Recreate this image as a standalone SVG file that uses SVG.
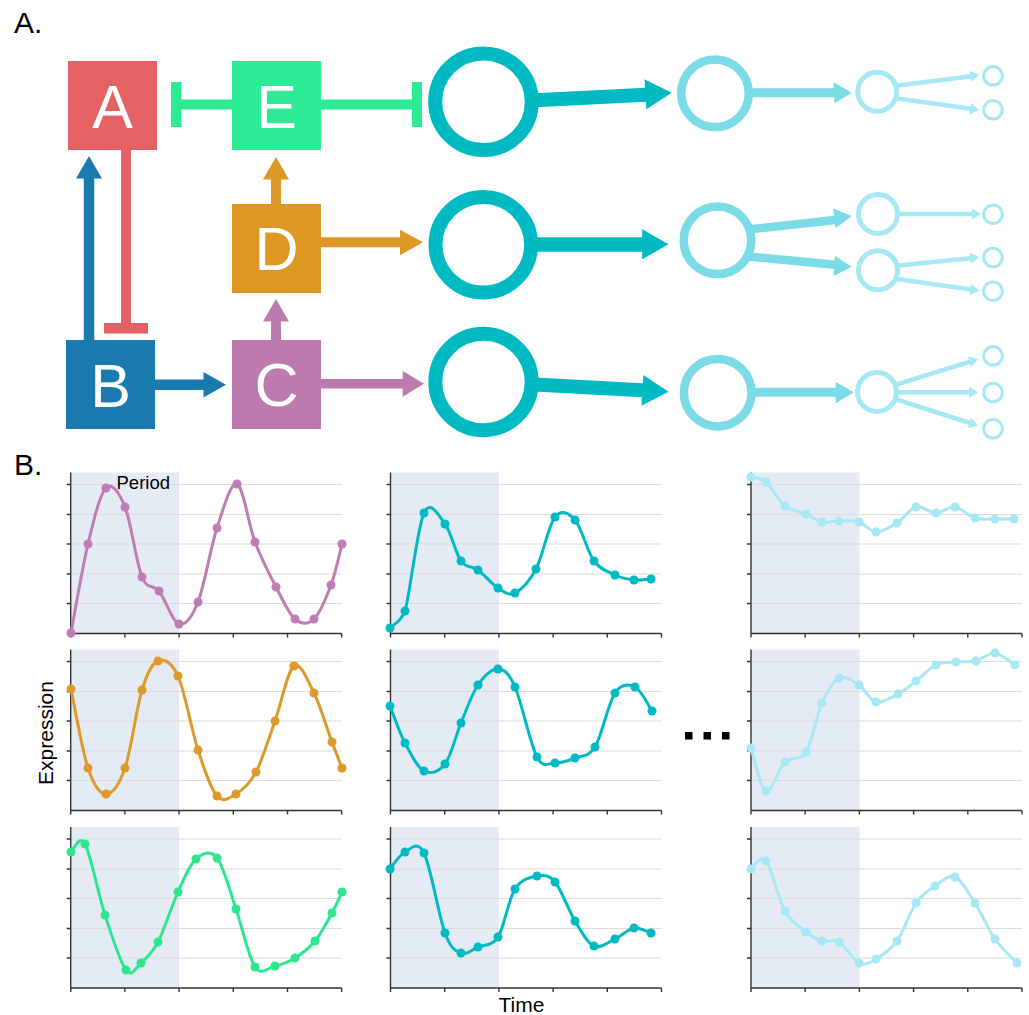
<svg xmlns="http://www.w3.org/2000/svg" xmlns:xlink="http://www.w3.org/1999/xlink" width="1029" height="1015" viewBox="0 0 1029 1015">
<style>
.lbl{font-family:"Liberation Sans",Arial,sans-serif;fill:#000}
.nt{font-family:"Liberation Sans",Arial,sans-serif;fill:#fff;font-size:61px;text-anchor:middle}
.ax{stroke:#333;stroke-width:1.4;fill:none}
.grid{stroke:#DCDCDC;stroke-width:1.2;fill:none}
.shade{fill:#E5EBF5}
.curve{fill:none;stroke-width:3;stroke-linecap:round;stroke-linejoin:round}
.big{fill:#fff;stroke:#00BAC3;stroke-width:14}
.mid{fill:#fff;stroke:#7BDBE6;stroke-width:8.5}
.sm{fill:#fff;stroke:#A6E8F4;stroke-width:5}
.tiny{fill:#fff;stroke:#A6E8F4;stroke-width:3}
</style>
<defs>
<g id="frame">
<rect class="shade" x="0" y="0" width="108.4" height="161"/>
<path class="grid" d="M0,12H271M0,42H271M0,71.5H271M0,101.5H271M0,131H271"/>
<path class="ax" d="M0,0V161H271M-4,12H0M-4,42H0M-4,71.5H0M-4,101.5H0M-4,131H0M0,161V165M54.2,161V165M108.4,161V165M162.6,161V165M216.8,161V165M271,161V165"/>
</g>
</defs>
<rect width="1029" height="1015" fill="#fff"/>

<text class="lbl" x="14" y="33" font-size="30">A.</text>
<text class="lbl" x="14" y="475" font-size="30">B.</text>

<g id="connectors">
<!-- E inhibits A -->
<line x1="232" y1="104.5" x2="178" y2="104.5" stroke="#2DEA94" stroke-width="10"/>
<rect x="171" y="82" width="10.5" height="45" fill="#2DEA94"/>
<!-- E inhibits big circle 1 -->
<line x1="321" y1="104.5" x2="415" y2="104.5" stroke="#2DEA94" stroke-width="10"/>
<rect x="412" y="82" width="10" height="45" fill="#2DEA94"/>
<!-- B -> A -->
<line x1="89" y1="340" x2="89" y2="177" stroke="#1A79AE" stroke-width="10.5"/>
<polygon points="76,178.5 89,156 102,178.5" fill="#1A79AE"/>
<!-- A inhibits B -->
<line x1="126" y1="150" x2="126" y2="325" stroke="#E56264" stroke-width="10"/>
<rect x="104" y="323" width="44" height="10.5" fill="#E56264"/>
<!-- D -> E -->
<line x1="276" y1="204" x2="276" y2="178" stroke="#DC9725" stroke-width="10"/>
<polygon points="263,179.5 276,157 289,179.5" fill="#DC9725"/>
<!-- C -> D -->
<line x1="276" y1="340" x2="276" y2="320" stroke="#BD7AAE" stroke-width="10"/>
<polygon points="263,321.5 276,299 289,321.5" fill="#BD7AAE"/>
<!-- B -> C -->
<line x1="155" y1="384.7" x2="205" y2="384.7" stroke="#1A79AE" stroke-width="10.5"/>
<polygon points="203.5,372 226,384.7 203.5,397.5" fill="#1A79AE"/>
<!-- D -> big2 -->
<line x1="321" y1="242.3" x2="401" y2="242.3" stroke="#DC9725" stroke-width="10"/>
<polygon points="400,229.7 423,242.3 400,255.3" fill="#DC9725"/>
<!-- C -> big3 -->
<line x1="321" y1="383.8" x2="404" y2="383.8" stroke="#BD7AAE" stroke-width="9.5"/>
<polygon points="402.7,371 424,383.8 402.7,396.7" fill="#BD7AAE"/>

<!-- big -> mid -->
<g fill="#00BAC3" stroke="#00BAC3">
<line x1="530" y1="100.5" x2="646" y2="94.7" stroke-width="14"/>
<polygon points="644.5,79.3 671.7,92.7 646.4,109.3" stroke="none"/>
<line x1="530" y1="244.5" x2="643" y2="244.5" stroke-width="14.5"/>
<polygon points="642.2,229.3 668.6,244.3 642.2,259.3" stroke="none"/>
<line x1="530" y1="384.3" x2="643" y2="390.3" stroke-width="14"/>
<polygon points="643.3,375 668.6,391.7 641.4,405.7" stroke="none"/>
</g>
<!-- mid -> small -->
<g fill="#7BDBE6" stroke="#7BDBE6">
<line x1="748" y1="92.8" x2="835" y2="92.8" stroke-width="9"/>
<polygon points="833.6,82.3 851.9,92.7 834.4,103.3" stroke="none"/>
<line x1="748" y1="229.5" x2="835" y2="220" stroke-width="8.5"/>
<polygon points="832.9,208.3 851.9,216 835.6,228.3" stroke="none"/>
<line x1="746" y1="256.2" x2="835" y2="264.7" stroke-width="8.5"/>
<polygon points="834.8,255.7 851.9,266.7 833.6,276" stroke="none"/>
<line x1="750" y1="392.3" x2="836.5" y2="392.3" stroke-width="9"/>
<polygon points="835.6,381.7 853.8,392.3 835.6,403.3" stroke="none"/>
</g>
<!-- small -> tiny -->
<g fill="#A6E8F4" stroke="#A6E8F4" stroke-width="4.5">
<line x1="896" y1="85.8" x2="971" y2="76.2"/>
<polygon points="971.1,81.6 979.3,75 969.7,70.7" stroke="none"/>
<line x1="896" y1="98.2" x2="971" y2="108.7"/>
<polygon points="969.6,114.2 979.3,110 971.2,103.3" stroke="none"/>
<line x1="897" y1="214" x2="973" y2="214"/>
<polygon points="972,208.5 981,214 972,219.5" stroke="none"/>
<line x1="896" y1="265.8" x2="971" y2="258.2"/>
<polygon points="971,263.7 979.3,257.3 969.8,252.7" stroke="none"/>
<line x1="895" y1="278.7" x2="971" y2="289.4"/>
<polygon points="969.6,294.9 979.3,290.7 971.2,284" stroke="none"/>
<line x1="895" y1="385" x2="970" y2="361.6"/>
<polygon points="971.2,366.95 978.1,359 967.9,356.45" stroke="none"/>
<line x1="896" y1="392.3" x2="970" y2="392.3"/>
<polygon points="969.1,386.8 978.1,392.3 969.1,397.8" stroke="none"/>
<line x1="895" y1="399" x2="970" y2="423"/>
<polygon points="967.8,428.1 978.1,425.7 971.2,417.7" stroke="none"/>
</g>
</g>

<g id="node-A"><rect x="68" y="61" width="89" height="89" fill="#E56264"/><text class="nt" x="112.5" y="128">A</text></g>
<g id="node-E"><rect x="232" y="61" width="89" height="89" fill="#2DEA94"/><text class="nt" x="276.5" y="128">E</text></g>
<g id="node-D"><rect x="232" y="204" width="89" height="89" fill="#DC9725"/><text class="nt" x="276.5" y="270">D</text></g>
<g id="node-B"><rect x="66" y="340" width="89" height="89" fill="#1A79AE"/><text class="nt" x="110.5" y="407">B</text></g>
<g id="node-C"><rect x="232" y="340" width="89" height="89" fill="#BD7AAE"/><text class="nt" x="276.5" y="406">C</text></g>

<g id="node-big1"><circle class="big" cx="483.5" cy="101.7" r="48.3"/></g>
<g id="node-big2"><circle class="big" cx="483.3" cy="244.8" r="47.8"/></g>
<g id="node-big3"><circle class="big" cx="483.5" cy="382" r="48.2"/></g>
<g id="node-mid1"><circle class="mid" cx="715" cy="93.3" r="33.8"/></g>
<g id="node-mid2"><circle class="mid" cx="717.5" cy="240.3" r="33.8"/></g>
<g id="node-mid3"><circle class="mid" cx="717.7" cy="392.7" r="33.8"/></g>
<g id="node-sm1"><circle class="sm" cx="877.2" cy="91.7" r="19.5"/></g>
<g id="node-sm2a"><circle class="sm" cx="878" cy="214" r="19.5"/></g>
<g id="node-sm2b"><circle class="sm" cx="878" cy="270.3" r="19.5"/></g>
<g id="node-sm3"><circle class="sm" cx="877" cy="392" r="19.5"/></g>
<g id="node-t1a"><circle class="tiny" cx="993" cy="75.8" r="9.3"/></g>
<g id="node-t1b"><circle class="tiny" cx="993" cy="109.8" r="9.3"/></g>
<g id="node-t2a"><circle class="tiny" cx="993" cy="214.2" r="9.3"/></g>
<g id="node-t2b"><circle class="tiny" cx="993" cy="257.5" r="9.3"/></g>
<g id="node-t2c"><circle class="tiny" cx="993" cy="291.2" r="9.3"/></g>
<g id="node-t3a"><circle class="tiny" cx="993" cy="355.8" r="9.3"/></g>
<g id="node-t3b"><circle class="tiny" cx="993" cy="392.5" r="9.3"/></g>
<g id="node-t3c"><circle class="tiny" cx="993" cy="428.8" r="9.3"/></g>

<!-- Panel B frames -->
<use xlink:href="#frame" href="#frame" transform="translate(70.7,472.5)"/>
<use xlink:href="#frame" href="#frame" transform="translate(70.7,649.5)"/>
<use xlink:href="#frame" href="#frame" transform="translate(70.7,827)"/>
<use xlink:href="#frame" href="#frame" transform="translate(390.5,472.5)"/>
<use xlink:href="#frame" href="#frame" transform="translate(390.5,649.5)"/>
<use xlink:href="#frame" href="#frame" transform="translate(390.5,827)"/>
<use xlink:href="#frame" href="#frame" transform="translate(751,472.5)"/>
<use xlink:href="#frame" href="#frame" transform="translate(751,649.5)"/>
<use xlink:href="#frame" href="#frame" transform="translate(751,827)"/>

<text class="lbl" x="116.5" y="489" font-size="18.5">Period</text>
<text class="lbl" font-size="21" text-anchor="middle" transform="translate(53,733) rotate(-90)">Expression</text>
<text class="lbl" x="521.5" y="1012" font-size="21" text-anchor="middle">Time</text>
<g fill="#000">
<rect x="685" y="732" width="7.5" height="7.5"/>
<rect x="703.5" y="732" width="7.5" height="7.5"/>
<rect x="722" y="732" width="7.5" height="7.5"/>
</g>

<!-- curves -->
<g id="plot-1-1">
<path class="curve" stroke="#C07CB4" d="M71,633 C73.8,618.2 82.2,568.2 88,544 S99.8,494.2 106,488 S119,492.2 125,507 S136.3,563 142,577 S152.8,583.2 159,591 S172.5,622.2 179,624 S191.7,618 198,602 S210.5,547.7 217,528 S230.7,481.7 237,484 S248.5,524.8 255,542 S269.3,574.2 276,587 S288.7,613.7 295,619 S308,624.7 314,619 S326.3,597.5 331,585 S340.2,550.8 342,544"/>
<g fill="#C07CB4"><circle cx="71" cy="633" r="4.5"/><circle cx="88" cy="544" r="4.5"/><circle cx="106" cy="488" r="4.5"/><circle cx="125" cy="507" r="4.5"/><circle cx="142" cy="577" r="4.5"/><circle cx="159" cy="591" r="4.5"/><circle cx="179" cy="624" r="4.5"/><circle cx="198" cy="602" r="4.5"/><circle cx="217" cy="528" r="4.5"/><circle cx="237" cy="484" r="4.5"/><circle cx="255" cy="542" r="4.5"/><circle cx="276" cy="587" r="4.5"/><circle cx="295" cy="619" r="4.5"/><circle cx="314" cy="619" r="4.5"/><circle cx="331" cy="585" r="4.5"/><circle cx="342" cy="544" r="4.5"/></g>
</g>
<g id="plot-2-1">
<path class="curve" stroke="#DD9A2A" d="M71,689 C73.8,702.2 82.2,750.5 88,768 S99.8,794 106,794 S119,785.3 125,768 S136.5,707.8 142,690 S152,663.3 158,661 S171.3,661.2 178,676 S191.5,730 198,750 S210.7,788.7 217,796 S229.5,798 236,794 S249.5,784.2 256,772 S268.7,738.7 275,721 S287.5,670.7 294,666 S307.7,680.3 314,693 S327.3,729.5 332,742 S340.3,763.7 342,768"/>
<g fill="#DD9A2A"><circle cx="71" cy="689" r="4.5"/><circle cx="88" cy="768" r="4.5"/><circle cx="106" cy="794" r="4.5"/><circle cx="125" cy="768" r="4.5"/><circle cx="142" cy="690" r="4.5"/><circle cx="158" cy="661" r="4.5"/><circle cx="178" cy="676" r="4.5"/><circle cx="198" cy="750" r="4.5"/><circle cx="217" cy="796" r="4.5"/><circle cx="236" cy="794" r="4.5"/><circle cx="256" cy="772" r="4.5"/><circle cx="275" cy="721" r="4.5"/><circle cx="294" cy="666" r="4.5"/><circle cx="314" cy="693" r="4.5"/><circle cx="332" cy="742" r="4.5"/><circle cx="342" cy="768" r="4.5"/></g>
</g>
<g id="plot-3-1">
<path class="curve" stroke="#2EE68E" d="M71,852 C73.3,850.7 79.3,833.5 85,844 S98.2,894 105,915 S120,962 126,970 S135.7,967.7 141,963 S151.8,953.8 158,942 S171.7,905.8 178,892 S189.5,864.7 196,859 S210.3,849.7 217,858 S229.7,890.8 236,909 S248.5,957.5 255,967 S268.3,967.5 275,966 S288.3,962.2 295,958 S308.8,948.5 315,941 S327.5,921.2 332,913 S340.3,895.5 342,892"/>
<g fill="#2EE68E"><circle cx="71" cy="852" r="4.5"/><circle cx="85" cy="844" r="4.5"/><circle cx="105" cy="915" r="4.5"/><circle cx="126" cy="970" r="4.5"/><circle cx="141" cy="963" r="4.5"/><circle cx="158" cy="942" r="4.5"/><circle cx="178" cy="892" r="4.5"/><circle cx="196" cy="859" r="4.5"/><circle cx="217" cy="858" r="4.5"/><circle cx="236" cy="909" r="4.5"/><circle cx="255" cy="967" r="4.5"/><circle cx="275" cy="966" r="4.5"/><circle cx="295" cy="958" r="4.5"/><circle cx="315" cy="941" r="4.5"/><circle cx="332" cy="913" r="4.5"/><circle cx="342" cy="892" r="4.5"/></g>
</g>
<g id="plot-1-2">
<path class="curve" stroke="#00BAC3" d="M390,628 C392.5,625.2 401,622 405,611 S417.3,527.5 424,513 S438.8,516 445,524 S455.5,553.3 461,561 S471.8,565.5 478,570 S491.8,584.2 498,588 S508.7,596.2 515,593 S529.3,581.7 536,569 S548.5,525.2 555,517 S568.5,512.7 575,520 S587.3,551.8 594,561 S608.3,571.8 615,575 S628,579.3 634,580 S648.2,579.2 651,579"/>
<g fill="#00BAC3"><circle cx="390" cy="628" r="4.5"/><circle cx="405" cy="611" r="4.5"/><circle cx="424" cy="513" r="4.5"/><circle cx="445" cy="524" r="4.5"/><circle cx="461" cy="561" r="4.5"/><circle cx="478" cy="570" r="4.5"/><circle cx="498" cy="588" r="4.5"/><circle cx="515" cy="593" r="4.5"/><circle cx="536" cy="569" r="4.5"/><circle cx="555" cy="517" r="4.5"/><circle cx="575" cy="520" r="4.5"/><circle cx="594" cy="561" r="4.5"/><circle cx="615" cy="575" r="4.5"/><circle cx="634" cy="580" r="4.5"/><circle cx="651" cy="579" r="4.5"/></g>
</g>
<g id="plot-2-2">
<path class="curve" stroke="#00BAC3" d="M390,706 C392.5,712.2 399.3,732.2 405,743 S417.3,767.5 424,771 S438.8,772 445,764 S455.5,736.2 461,723 S471.8,694 478,685 S491.8,668.7 498,669 S508.5,672.3 515,687 S530.3,744.3 537,757 S548.7,762.8 555,763 S568.3,760.7 575,758 S588.3,757.8 595,747 S608.3,703 615,693 S628.8,684 635,687 S649.2,707 652,711"/>
<g fill="#00BAC3"><circle cx="390" cy="706" r="4.5"/><circle cx="405" cy="743" r="4.5"/><circle cx="424" cy="771" r="4.5"/><circle cx="445" cy="764" r="4.5"/><circle cx="461" cy="723" r="4.5"/><circle cx="478" cy="685" r="4.5"/><circle cx="498" cy="669" r="4.5"/><circle cx="515" cy="687" r="4.5"/><circle cx="537" cy="757" r="4.5"/><circle cx="555" cy="763" r="4.5"/><circle cx="575" cy="758" r="4.5"/><circle cx="595" cy="747" r="4.5"/><circle cx="615" cy="693" r="4.5"/><circle cx="635" cy="687" r="4.5"/><circle cx="652" cy="711" r="4.5"/></g>
</g>
<g id="plot-3-2">
<path class="curve" stroke="#00BAC3" d="M390,869 C392.5,866.2 399.3,854.7 405,852 S417.3,839.5 424,853 S438.8,916.3 445,933 S455.5,950.7 461,953 S471.8,949.7 478,947 S491.8,946.7 498,937 S508.5,899.2 515,889 S530.3,877.2 537,876 S548.7,874.5 555,882 S568.5,910.3 575,921 S587.3,943 594,946 S608.3,942 615,939 S628,929 634,928 S648.2,932.2 651,933"/>
<g fill="#00BAC3"><circle cx="390" cy="869" r="4.5"/><circle cx="405" cy="852" r="4.5"/><circle cx="424" cy="853" r="4.5"/><circle cx="445" cy="933" r="4.5"/><circle cx="461" cy="953" r="4.5"/><circle cx="478" cy="947" r="4.5"/><circle cx="498" cy="937" r="4.5"/><circle cx="515" cy="889" r="4.5"/><circle cx="537" cy="876" r="4.5"/><circle cx="555" cy="882" r="4.5"/><circle cx="575" cy="921" r="4.5"/><circle cx="594" cy="946" r="4.5"/><circle cx="615" cy="939" r="4.5"/><circle cx="634" cy="928" r="4.5"/><circle cx="651" cy="933" r="4.5"/></g>
</g>
<g id="plot-1-3">
<path class="curve" stroke="#A6E8F4" d="M751,477 C753.5,477.8 760.3,477.2 766,482 S778.3,500.7 785,506 S799.8,511.3 806,514 S816.5,520.8 822,522 S832.8,521 839,521 S852.8,520.2 859,522 S869.7,531.8 876,532 S890.3,527.2 897,523 S909.5,508.7 916,507 S929.5,513 936,513 S948.5,506.2 955,507 S968.3,516 975,518 S988.5,518.8 995,519 S1010.8,519 1014,519"/>
<g fill="#A6E8F4"><circle cx="751" cy="477" r="4.5"/><circle cx="766" cy="482" r="4.5"/><circle cx="785" cy="506" r="4.5"/><circle cx="806" cy="514" r="4.5"/><circle cx="822" cy="522" r="4.5"/><circle cx="839" cy="521" r="4.5"/><circle cx="859" cy="522" r="4.5"/><circle cx="876" cy="532" r="4.5"/><circle cx="897" cy="523" r="4.5"/><circle cx="916" cy="507" r="4.5"/><circle cx="936" cy="513" r="4.5"/><circle cx="955" cy="507" r="4.5"/><circle cx="975" cy="518" r="4.5"/><circle cx="995" cy="519" r="4.5"/><circle cx="1014" cy="519" r="4.5"/></g>
</g>
<g id="plot-2-3">
<path class="curve" stroke="#A6E8F4" d="M751,748 C753.5,755.2 760.3,788.7 766,791 S778.3,768.5 785,762 S799.8,761.8 806,752 S816.5,715.3 822,703 S832.8,681 839,678 S852.8,681 859,685 S869.5,700.5 876,702 S891.3,697.5 898,694 S909.7,685.8 916,681 S929.3,668.2 936,665 S949.3,662.7 956,662 S969.5,662.5 976,661 S988.5,652.3 995,653 S1011.7,663 1015,665"/>
<g fill="#A6E8F4"><circle cx="751" cy="748" r="4.5"/><circle cx="766" cy="791" r="4.5"/><circle cx="785" cy="762" r="4.5"/><circle cx="806" cy="752" r="4.5"/><circle cx="822" cy="703" r="4.5"/><circle cx="839" cy="678" r="4.5"/><circle cx="859" cy="685" r="4.5"/><circle cx="876" cy="702" r="4.5"/><circle cx="898" cy="694" r="4.5"/><circle cx="916" cy="681" r="4.5"/><circle cx="936" cy="665" r="4.5"/><circle cx="956" cy="662" r="4.5"/><circle cx="976" cy="661" r="4.5"/><circle cx="995" cy="653" r="4.5"/><circle cx="1015" cy="665" r="4.5"/></g>
</g>
<g id="plot-3-3">
<path class="curve" stroke="#A6E8F4" d="M751,869 C753.5,867.7 760.3,854 766,861 S778.3,899.2 785,911 S799.8,927 806,932 S816.5,939.3 822,941 S832.8,938.3 839,942 S852.8,960.2 859,963 S869.7,962.7 876,959 S890.3,950.3 897,941 S909.7,912.2 916,903 S928.5,890.3 935,886 S948.3,874.2 955,877 S968.3,892.7 975,903 S988,929 995,939 S1013.3,959 1017,963"/>
<g fill="#A6E8F4"><circle cx="751" cy="869" r="4.5"/><circle cx="766" cy="861" r="4.5"/><circle cx="785" cy="911" r="4.5"/><circle cx="806" cy="932" r="4.5"/><circle cx="822" cy="941" r="4.5"/><circle cx="839" cy="942" r="4.5"/><circle cx="859" cy="963" r="4.5"/><circle cx="876" cy="959" r="4.5"/><circle cx="897" cy="941" r="4.5"/><circle cx="916" cy="903" r="4.5"/><circle cx="935" cy="886" r="4.5"/><circle cx="955" cy="877" r="4.5"/><circle cx="975" cy="903" r="4.5"/><circle cx="995" cy="939" r="4.5"/><circle cx="1017" cy="963" r="4.5"/></g>
</g>
</svg>
